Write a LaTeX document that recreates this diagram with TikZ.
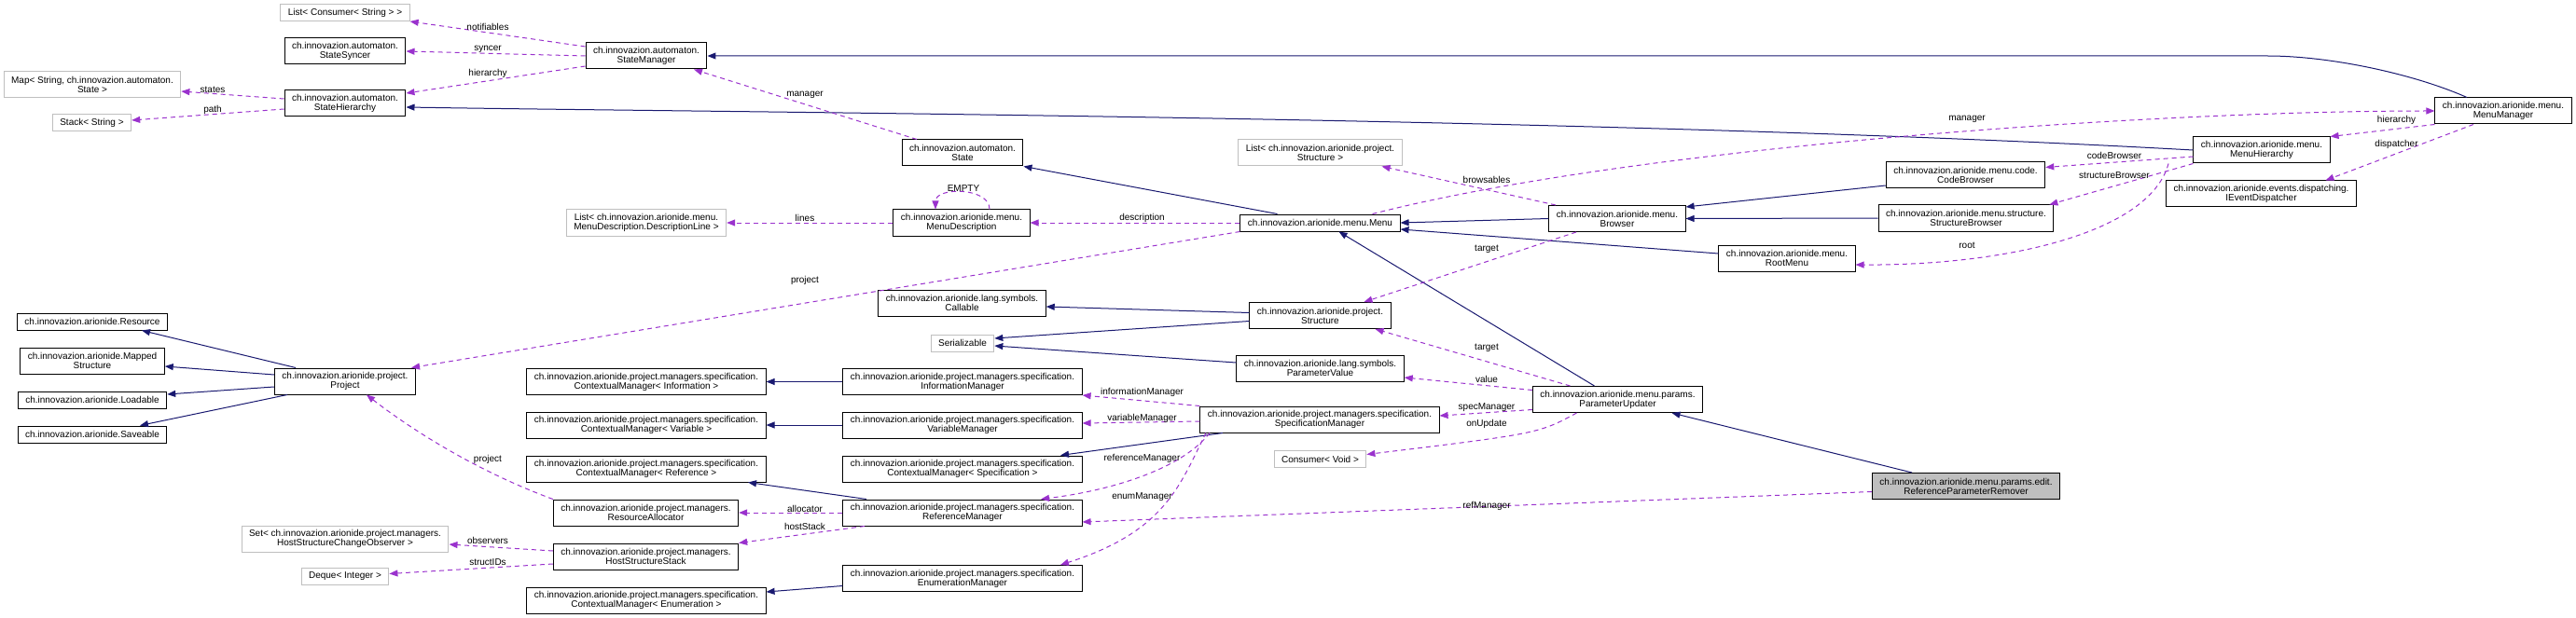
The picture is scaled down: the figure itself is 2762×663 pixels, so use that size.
\documentclass[tikz,border=0pt]{standalone}
\usepackage{fontspec}
\setmainfont{Liberation Sans}
\usetikzlibrary{arrows.meta,calc}
\definecolor{InhClr}{rgb}{0.098,0.098,0.439}
\definecolor{UseClr}{rgb}{0.604,0.196,0.804}
\definecolor{ExtClr}{rgb}{0.749,0.749,0.749}

\begin{document}
\begin{tikzpicture}[x=1pt,y=-1pt,
  cls/.style={draw=black,line width=1pt,fill=white,inner xsep=8pt,inner ysep=0pt,minimum height=18pt,align=center,font=\fontsize{10}{10}\selectfont},
  two/.style={minimum height=28pt},
  ext/.style={cls,draw=ExtClr},
  lbl/.style={inner sep=0pt,font=\fontsize{10}{10}\selectfont},
  inherit/.style={draw=InhClr,line width=1pt,-{Triangle[length=9pt,width=7pt]}},
  member/.style={draw=UseClr,line width=1pt,dash pattern=on 5pt off 4pt,-{Triangle[length=9pt,width=7pt]}}]
\useasboundingbox (0,0) rectangle (2762,663);

\node[ext,two] (map) at (99,91) {Map< String, ch.innovazion.automaton.\\State >};
\node[ext] (stack) at (98.5,132) {Stack< String >};
\node[cls] (resource) at (99,345) {ch.innovazion.arionide.Resource};
\node[cls,two] (mapped) at (99,387) {ch.innovazion.arionide.Mapped\\Structure};
\node[cls] (loadable) at (99,429) {ch.innovazion.arionide.Loadable};
\node[cls] (saveable) at (99,466) {ch.innovazion.arionide.Saveable};

\node[ext] (lcons) at (370,13.5) {List< Consumer< String > >};
\node[cls,two] (ssync) at (370,55) {ch.innovazion.automaton.\\StateSyncer};
\node[cls,two] (shier) at (370,111) {ch.innovazion.automaton.\\StateHierarchy};
\node[cls,two] (project) at (370,409) {ch.innovazion.arionide.project.\\Project};
\node[ext,two] (obsset) at (370,578) {Set< ch.innovazion.arionide.project.managers.\\HostStructureChangeObserver >};
\node[ext] (deque) at (370,618.5) {Deque< Integer >};

\node[cls,two] (smgr) at (693,60) {ch.innovazion.automaton.\\StateManager};
\node[ext,two] (dline) at (693,239) {List< ch.innovazion.arionide.menu.\\MenuDescription.DescriptionLine >};
\node[cls,two] (cminfo) at (693,409.5) {ch.innovazion.arionide.project.managers.specification.\\ContextualManager< Information >};
\node[cls,two] (cmvar) at (693,456) {ch.innovazion.arionide.project.managers.specification.\\ContextualManager< Variable >};
\node[cls,two] (cmref) at (693,503) {ch.innovazion.arionide.project.managers.specification.\\ContextualManager< Reference >};
\node[cls,two] (alloc) at (692.5,550) {ch.innovazion.arionide.project.managers.\\ResourceAllocator};
\node[cls,two] (hstack) at (692.5,597) {ch.innovazion.arionide.project.managers.\\HostStructureStack};
\node[cls,two] (cmenum) at (693,644) {ch.innovazion.arionide.project.managers.specification.\\ContextualManager< Enumeration >};

\node[cls,two] (state) at (1032,164) {ch.innovazion.automaton.\\State};
\node[cls,two] (mdesc) at (1031,239) {ch.innovazion.arionide.menu.\\MenuDescription};
\node[cls,two] (callable) at (1031.5,325) {ch.innovazion.arionide.lang.symbols.\\Callable};
\node[ext] (serial) at (1032,368) {Serializable};
\node[cls,two] (infomgr) at (1032,409.5) {ch.innovazion.arionide.project.managers.specification.\\InformationManager};
\node[cls,two] (varmgr) at (1032,456) {ch.innovazion.arionide.project.managers.specification.\\VariableManager};
\node[cls,two] (cmspec) at (1032,503) {ch.innovazion.arionide.project.managers.specification.\\ContextualManager< Specification >};
\node[cls,two] (refmgr) at (1032,550) {ch.innovazion.arionide.project.managers.specification.\\ReferenceManager};
\node[cls,two] (enummgr) at (1032,620.5) {ch.innovazion.arionide.project.managers.specification.\\EnumerationManager};

\node[ext,two] (lstruct) at (1415.5,164) {List< ch.innovazion.arionide.project.\\Structure >};
\node[cls] (menu) at (1415.5,239) {ch.innovazion.arionide.menu.Menu};
\node[cls,two] (structure) at (1415.5,338.5) {ch.innovazion.arionide.project.\\Structure};
\node[cls,two] (pvalue) at (1415.5,395) {ch.innovazion.arionide.lang.symbols.\\ParameterValue};
\node[cls,two] (specmgr) at (1415,450) {ch.innovazion.arionide.project.managers.specification.\\SpecificationManager};
\node[ext] (cvoid) at (1415.5,492.5) {Consumer< Void >};

\node[cls,two] (browser) at (1734,234.5) {ch.innovazion.arionide.menu.\\Browser};
\node[cls,two] (pupd) at (1734.5,428.5) {ch.innovazion.arionide.menu.params.\\ParameterUpdater};
\node[cls,two] (rootmenu) at (1916,277) {ch.innovazion.arionide.menu.\\RootMenu};
\node[cls,two] (codebr) at (2107.5,187.5) {ch.innovazion.arionide.menu.code.\\CodeBrowser};
\node[cls,two] (structbr) at (2108,234) {ch.innovazion.arionide.menu.structure.\\StructureBrowser};
\node[cls,two,fill=ExtClr] (rpr) at (2108,521.5) {ch.innovazion.arionide.menu.params.edit.\\ReferenceParameterRemover};
\node[cls,two] (mhier) at (2425,161) {ch.innovazion.arionide.menu.\\MenuHierarchy};
\node[cls,two] (disp) at (2424.5,208) {ch.innovazion.arionide.events.dispatching.\\IEventDispatcher};
\node[cls,two] (mmgr) at (2684,119) {ch.innovazion.arionide.menu.\\MenuManager};

\draw[inherit] ([xshift=-39pt]mmgr.north) .. controls (2590,80) and (2500,60) .. (2431,60) -- (smgr.east);
\draw[inherit] (mhier.west) .. controls (1700,125) and (800,121) .. ([yshift=-4pt]shier.east);
\draw[inherit] ([xshift=-46pt]menu.north) -- (state.south east);
\draw[inherit] (browser.west) -- (menu.east);
\draw[inherit] ([yshift=5pt]rootmenu.west) -- ([yshift=-7pt]menu.east);
\draw[inherit] ([xshift=-25pt]pupd.north) -- ([xshift=20pt]menu.south);
\draw[inherit] ([yshift=3pt]codebr.south west) -- ([yshift=-2pt]browser.north east);
\draw[inherit] (structbr.west) -- (browser.east);
\draw[inherit] ([yshift=3pt]structure.west) -- ([yshift=-4pt]callable.east);
\draw[inherit] ([yshift=-6pt]structure.west) -- ([yshift=5pt]serial.east);
\draw[inherit] ([yshift=6pt]pvalue.west) -- ([yshift=-3pt]serial.east);
\draw[inherit] ([xshift=-58pt]rpr.north) -- ([xshift=58pt]pupd.south);
\draw[inherit] ([xshift=-104pt]specmgr.south) -- ([xshift=105pt]cmspec.north);
\draw[inherit] (infomgr.west) -- (cminfo.east);
\draw[inherit] (varmgr.west) -- (cmvar.east);
\draw[inherit] ([xshift=-103pt]refmgr.north) -- ([xshift=109pt]cmref.south);
\draw[inherit] ([yshift=-8pt]enummgr.west) -- ([yshift=9pt]cmenum.east);
\draw[inherit] ([xshift=-53pt]project.north) -- ([xshift=53pt]resource.south);
\draw[inherit] ([yshift=7pt]project.west) -- ([yshift=-6pt]mapped.east);
\draw[inherit] ([yshift=-6pt]project.west) -- ([yshift=6pt]loadable.east);
\draw[inherit] ([xshift=-62pt]project.south) -- ([xshift=51pt]saveable.north);

\draw[member] ([yshift=10pt]smgr.west) -- (lcons.south east);
\draw[member] (smgr.west) -- (ssync.east);
\draw[member] ([yshift=-11pt]smgr.west) -- ([yshift=11pt]shier.east);
\draw[member] ([yshift=5pt]shier.west) -- ([yshift=-7pt]map.east);
\draw[member] ([yshift=-6pt]shier.west) -- ([yshift=3pt]stack.east);
\draw[member] ([xshift=-49pt]state.north) -- ([xshift=51pt]smgr.south);
\draw[member] ([xshift=30pt]mdesc.north) .. controls ([xshift=30pt,yshift=24pt]mdesc.north) and ([xshift=-28pt,yshift=24pt]mdesc.north) .. ([xshift=-28pt]mdesc.north);
\draw[member] (mdesc.west) -- (dline.east);
\draw[member] (menu.west) -- (mdesc.east);
\draw[member] (menu.south west) -- ([xshift=-5pt]project.north east);
\draw[member] ([xshift=-66pt]browser.north) -- ([xshift=66pt]lstruct.south);
\draw[member] ([xshift=56pt]menu.north) .. controls (1750,158) and (2300,119) .. (mmgr.west);
\draw[member] ([xshift=-44pt]browser.south) -- ([xshift=47pt]structure.north);
\draw[member] ([xshift=-51pt]pupd.north) -- ([xshift=59pt]structure.south);
\draw[member] ([yshift=10pt]pupd.west) -- ([yshift=-10pt]pvalue.east);
\draw[member] ([yshift=-11pt]pupd.west) -- ([yshift=4pt]specmgr.east);
\draw[member] ([xshift=-44pt]pupd.south) .. controls (1650,465) .. ([yshift=5pt]cvoid.east);
\draw[member] ([yshift=-6pt]rpr.west) -- ([yshift=-10pt]refmgr.east);
\draw[member] (specmgr.north west) -- (infomgr.south east);
\draw[member] ([yshift=-2pt]specmgr.west) -- ([yshift=2pt]varmgr.east);
\draw[member] ([xshift=-118pt]specmgr.south) .. controls (1270,500) and (1200,525) .. ([xshift=84pt]refmgr.north);
\draw[member] ([xshift=-122pt]specmgr.south) .. controls (1265,520) and (1250,570) .. ([xshift=105pt]enummgr.north);
\draw[member] (alloc.north west) .. controls (510,505) and (440,460) .. ([xshift=23pt]project.south);
\draw[member] (refmgr.west) -- (alloc.east);
\draw[member] ([xshift=-105pt]refmgr.south) -- (hstack.north east);
\draw[member] ([yshift=6pt]hstack.west) -- ([yshift=-6pt]obsset.east);
\draw[member] ([yshift=-8pt]hstack.west) -- ([yshift=3pt]deque.east);
\draw[member] ([yshift=-7pt]mhier.west) -- ([yshift=8pt]codebr.east);
\draw[member] (mhier.south west) -- ([xshift=-5pt]structbr.north east);
\draw[member] ([xshift=-100pt]mhier.south) .. controls (2305,250) and (2150,285) .. ([yshift=-7pt]rootmenu.east);
\draw[member] (mmgr.south west) -- (mhier.north east);
\draw[member] ([xshift=-32pt]mmgr.south) -- ([xshift=69pt]disp.north);

\node[lbl] (lnotif) at (523,29) {notifiables};
\node[lbl] (lsync) at (523,53) {syncer};
\node[lbl] (lhier) at (523,79) {hierarchy};
\node[lbl] (lstates) at (228,96) {states};
\node[lbl] (lpath) at (228,118) {path};
\node[lbl] (lmgr) at (863,102) {manager};
\node[lbl] (lempty) at (1033,202) {EMPTY};
\node[lbl] (llines) at (863,234) {lines};
\node[lbl] (ldesc) at (1224.5,234) {description};
\node[lbl] (lproj) at (863,301) {project};
\node[lbl] (lproj2) at (523,493) {project};
\node[lbl] (lobs) at (523,580) {observers};
\node[lbl] (lsids) at (523,603) {structIDs};
\node[lbl] (linfo) at (1224.5,421) {informationManager};
\node[lbl] (lvar) at (1224.5,449) {variableManager};
\node[lbl] (lref) at (1224.5,492) {referenceManager};
\node[lbl] (lenum) at (1224.5,533) {enumManager};
\node[lbl] (lalloc) at (863,546) {allocator};
\node[lbl] (lhstack) at (863,565) {hostStack};
\node[lbl] (lbrows) at (1594,193) {browsables};
\node[lbl] (lmgr2) at (2109,128) {manager};
\node[lbl] (ltarget) at (1594,267) {target};
\node[lbl] (ltarget2) at (1594,373) {target};
\node[lbl] (lvalue) at (1594,407) {value};
\node[lbl] (lspec) at (1594,437) {specManager};
\node[lbl] (lupd) at (1594,455) {onUpdate};
\node[lbl] (lrefm) at (1594,543) {refManager};
\node[lbl] (lcodeb) at (2267,167) {codeBrowser};
\node[lbl] (lstructb) at (2267,188) {structureBrowser};
\node[lbl] (lroot) at (2109,263) {root};
\node[lbl] (lhier2) at (2569.5,129) {hierarchy};
\node[lbl] (ldisp) at (2569.5,155) {dispatcher};

\end{tikzpicture}
\end{document}
